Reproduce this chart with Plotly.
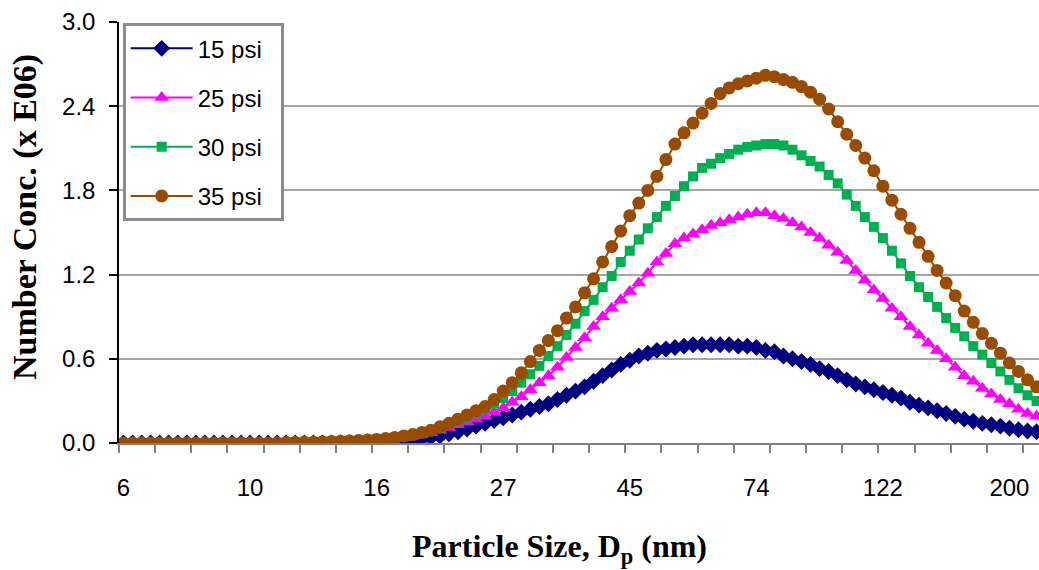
import plotly.graph_objects as go

# Size-bin labels shown on the x axis (every 14th channel)
tick_labels = ["6", "10", "16", "27", "45", "74", "122", "200"]
label_step = 14
minor_step = 4

# Number concentration (x 1E06) per size channel
p15 = [0.000]*24 + [
    0.002, 0.003, 0.005, 0.007, 0.010, 0.011, 0.012, 0.016, 0.020, 0.030,
    0.040, 0.050, 0.065, 0.080, 0.100, 0.120, 0.140, 0.160, 0.180, 0.200,
    0.220, 0.240, 0.260, 0.280, 0.310, 0.340, 0.370, 0.400, 0.440, 0.480,
    0.520, 0.560, 0.590, 0.620, 0.640, 0.660, 0.670, 0.680, 0.690, 0.700,
    0.700, 0.700, 0.700, 0.700, 0.690, 0.690, 0.680, 0.660, 0.650, 0.620,
    0.600, 0.580, 0.560, 0.530, 0.510, 0.480, 0.450, 0.420, 0.400, 0.380,
    0.360, 0.340, 0.320, 0.290, 0.270, 0.250, 0.230, 0.210, 0.190, 0.170,
    0.155, 0.140, 0.130, 0.120, 0.105, 0.095, 0.085, 0.080]

p25 = [0.000]*18 + [
    0.002, 0.003, 0.004, 0.005, 0.007, 0.009, 0.011, 0.013, 0.016, 0.018,
    0.020, 0.025, 0.030, 0.040, 0.050, 0.062, 0.075, 0.090, 0.110, 0.130,
    0.150, 0.170, 0.190, 0.220, 0.250, 0.290, 0.330, 0.380, 0.430, 0.480,
    0.540, 0.610, 0.680, 0.750, 0.830, 0.900, 0.960, 1.020, 1.080, 1.140,
    1.210, 1.290, 1.350, 1.420, 1.460, 1.490, 1.520, 1.550, 1.570, 1.590,
    1.610, 1.630, 1.640, 1.640, 1.620, 1.600, 1.570, 1.540, 1.500, 1.460,
    1.410, 1.360, 1.300, 1.230, 1.160, 1.090, 1.030, 0.960, 0.900, 0.830,
    0.770, 0.710, 0.660, 0.600, 0.540, 0.480, 0.440, 0.390, 0.350, 0.310,
    0.280, 0.240, 0.210, 0.190]

p30 = [0.000]*18 + [
    0.003, 0.004, 0.005, 0.006, 0.008, 0.010, 0.012, 0.014, 0.017, 0.021,
    0.025, 0.031, 0.038, 0.046, 0.055, 0.070, 0.085, 0.105, 0.130, 0.155,
    0.180, 0.210, 0.240, 0.280, 0.320, 0.370, 0.430, 0.490, 0.550, 0.620,
    0.690, 0.770, 0.850, 0.940, 1.020, 1.110, 1.190, 1.290, 1.370, 1.450,
    1.530, 1.610, 1.690, 1.760, 1.830, 1.900, 1.960, 1.990, 2.030, 2.060,
    2.090, 2.110, 2.120, 2.130, 2.130, 2.120, 2.090, 2.050, 2.010, 1.970,
    1.910, 1.850, 1.770, 1.690, 1.610, 1.540, 1.460, 1.370, 1.280, 1.190,
    1.110, 1.040, 0.970, 0.890, 0.820, 0.760, 0.690, 0.630, 0.570, 0.510,
    0.450, 0.390, 0.340, 0.300]

p35 = [0.000]*18 + [
    0.003, 0.004, 0.005, 0.006, 0.008, 0.010, 0.012, 0.014, 0.017, 0.021,
    0.025, 0.032, 0.040, 0.050, 0.060, 0.075, 0.090, 0.115, 0.140, 0.170,
    0.200, 0.230, 0.260, 0.310, 0.370, 0.430, 0.500, 0.580, 0.660, 0.730,
    0.800, 0.890, 0.970, 1.070, 1.170, 1.290, 1.400, 1.510, 1.620, 1.710,
    1.800, 1.900, 2.020, 2.130, 2.210, 2.280, 2.350, 2.420, 2.490, 2.530,
    2.560, 2.580, 2.600, 2.620, 2.610, 2.590, 2.570, 2.540, 2.500, 2.450,
    2.380, 2.290, 2.200, 2.120, 2.030, 1.940, 1.830, 1.730, 1.630, 1.530,
    1.430, 1.330, 1.230, 1.140, 1.050, 0.940, 0.860, 0.780, 0.710, 0.640,
    0.570, 0.510, 0.450, 0.400]

series = [
    ("15 psi", p15, "#000080", "diamond", 13),
    ("25 psi", p25, "#FF00FF", "triangle-up", 13),
    ("30 psi", p30, "#00B050", "square", 10),
    ("35 psi", p35, "#994C00", "circle", 13),
]

n = len(p35)
channels = list(range(n))
pad = "\u00a0" * 2

fig = go.Figure()
for i, (name, vals, col, sym, sz) in enumerate(series):
    fig.add_trace(go.Scatter(
        x=channels[:len(vals)], y=vals, name=name + pad, mode="lines+markers",
        line=dict(color=col, width=2),
        marker=dict(symbol=sym, size=sz, color=col),
        legendgroup=f"g{i}", cliponaxis=True,
    ))

tick_pos = [k * label_step for k in range(len(tick_labels))]
minor_pos = [k * minor_step - 0.5 for k in range(n // minor_step + 2)]

title_font = dict(family="Liberation Serif, Times New Roman", size=32,
                  color="black", weight="bold")

fig.update_layout(
    width=1039, height=570,
    margin=dict(l=119, r=0, t=22, b=127, autoexpand=False),
    paper_bgcolor="white", plot_bgcolor="white",
    font=dict(family="Liberation Sans, Arial", size=24, color="black"),
    showlegend=True,
    legend=dict(
        x=0.004, y=0.997, xanchor="left", yanchor="top",
        bordercolor="#8c8c8c", borderwidth=3, bgcolor="white",
        font=dict(family="Liberation Sans, Arial", size=24),
        tracegroupgap=15, itemwidth=62,
    ),
    xaxis=dict(
        range=[-0.5, 101.27], automargin=False,
        tickmode="array", tickvals=tick_pos, ticktext=tick_labels,
        ticks="outside", ticklen=8, tickcolor="rgba(0,0,0,0)",
        ticklabelstandoff=14,
        showline=True, linecolor="#808080", linewidth=1.5,
        showgrid=False, zeroline=False,
        minor=dict(tickmode="array", tickvals=minor_pos, ticks="outside",
                   ticklen=8, tickcolor="#808080", tickwidth=1.5, showgrid=False),
    ),
    yaxis=dict(
        range=[0, 3.0], automargin=False,
        tickmode="linear", tick0=0, dtick=0.6, tickformat=".1f",
        ticks="outside", ticklen=8, tickcolor="black", tickwidth=1.5,
        ticklabelstandoff=9,
        showline=True, linecolor="black", linewidth=1.5,
        showgrid=True, gridcolor="#a6a6a6", gridwidth=1.5, zeroline=False,
    ),
    annotations=[
        dict(text="Particle Size, D<sub>p</sub> (nm)", xref="paper", yref="paper",
             x=(559 - 119) / 920, y=(443 - 548) / 421,
             xanchor="center", yanchor="middle", showarrow=False,
             font=title_font),
        dict(text="Number Conc. (x E06)", xref="paper", yref="paper",
             x=(25 - 119) / 920, y=(443 - 217) / 421, textangle=-90,
             xanchor="center", yanchor="middle", showarrow=False,
             font=dict(title_font, size=34)),
    ],
)

fig.write_html(
    "out.html",
    config={"displayModeBar": False},
    post_script="document.body.style.margin='0';document.body.style.overflow='hidden';",
)
